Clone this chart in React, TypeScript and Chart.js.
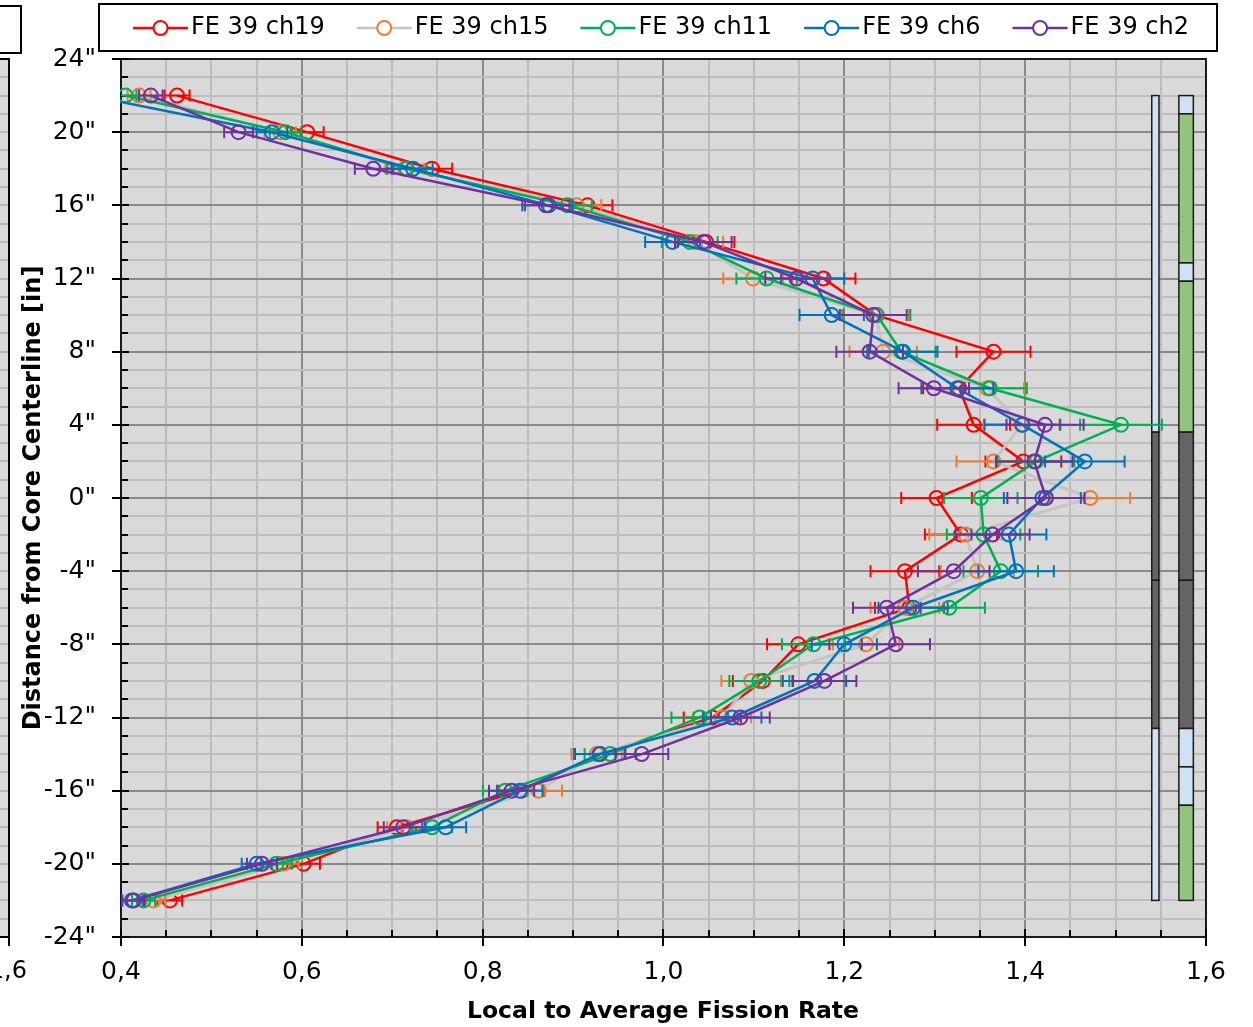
import React, { useEffect, useRef } from 'react';
import { Chart, registerables } from 'chart.js';

Chart.register(...registerables);

// ---- data ----
const positions = [22, 20, 18, 16, 14, 12, 10, 8, 6, 4, 2, 0, -2, -4, -6, -8, -10, -12, -14, -16, -18, -20, -22];
const ch19 = [0.462, 0.606, 0.744, 0.916, 1.047, 1.177, 1.235, 1.365, 1.327, 1.343, 1.398, 1.302, 1.329, 1.267, 1.272, 1.149, 1.110, 1.054, 0.930, 0.843, 0.705, 0.602, 0.454];
const ch15 = [0.420, 0.576, 0.714, 0.904, 1.035, 1.099, 1.235, 1.243, 1.358, 1.396, 1.365, 1.472, 1.334, 1.347, 1.267, 1.224, 1.097, 1.065, 0.926, 0.862, 0.716, 0.579, 0.436];
const ch11 = [0.405, 0.582, 0.716, 0.894, 1.029, 1.114, 1.236, 1.263, 1.361, 1.506, 1.412, 1.351, 1.354, 1.373, 1.316, 1.166, 1.106, 1.040, 0.941, 0.825, 0.744, 0.572, 0.425];
const ch6 = [0.365, 0.567, 0.723, 0.873, 1.010, 1.165, 1.186, 1.265, 1.325, 1.397, 1.466, 1.419, 1.382, 1.390, 1.276, 1.200, 1.167, 1.076, 0.929, 0.841, 0.759, 0.550, 0.412];
const ch2 = [0.433, 0.530, 0.679, 0.870, 1.044, 1.147, 1.232, 1.228, 1.299, 1.422, 1.410, 1.423, 1.364, 1.321, 1.247, 1.257, 1.178, 1.085, 0.976, 0.832, 0.712, 0.556, 0.414];
const seriesNames = ['FE 39 ch19', 'FE 39 ch15', 'FE 39 ch11', 'FE 39 ch6', 'FE 39 ch2'];
const seriesValues = [ch19, ch15, ch11, ch6, ch2];
const relativeUncertainty = 0.03;

// core component columns (x position, half width, segments from/to in inches)
const narrowColumnX = 1.544;
const narrowColumnHalf = 0.004;
const narrowFrom = [22, 3.6, -4.5, -12.6];
const narrowTo = [3.6, -4.5, -12.6, -22];
const narrowKind = ['refl', 'core', 'core', 'refl'];
const wideColumnX = 1.578;
const wideColumnHalf = 0.008;
const wideFrom = [22, 21, 12.85, 11.85, 3.6, -4.5, -12.6, -14.7, -16.8];
const wideTo = [21, 12.85, 11.85, 3.6, -4.5, -12.6, -14.7, -16.8, -22];
const wideKind = ['refl', 'fuel', 'refl', 'fuel', 'core', 'core', 'refl', 'refl', 'fuel'];

// ---- styles ----
const lineColors = ['#ff0000', '#c4c4c4', '#00b050', '#0070c0', '#7030a0'];
const markerColors = ['#ff0000', '#ed7d31', '#00b050', '#0070c0', '#7030a0'];
const kindColors: Record<string, string> = { refl: '#cfe1f3', fuel: '#93c47d', core: '#646464' };
const FONT = '"DejaVu Sans", Verdana, sans-serif';

const isMajorX = (v: number) => Math.round(v * 100) % 20 === 0;
const isMajorY = (v: number) => Math.round(v) % 4 === 0;

const decorPlugin = {
  id: 'decor',
  beforeDraw(chart: any) {
    const { ctx, chartArea: a } = chart;
    ctx.save();
    ctx.fillStyle = '#d9d9d9';
    ctx.fillRect(a.left, a.top, a.right - a.left, a.bottom - a.top);
    ctx.restore();
  },
  beforeDatasetsDraw(chart: any) {
    const { ctx, chartArea: a } = chart;
    const xs = chart.scales.x;
    const ys = chart.scales.y;
    ctx.save();
    // plot border
    ctx.strokeStyle = '#1a1a1a';
    ctx.lineWidth = 2;
    ctx.strokeRect(a.left, a.top, a.right - a.left, a.bottom - a.top);
    // tick marks
    ctx.strokeStyle = '#000';
    ctx.lineWidth = 2;
    ctx.beginPath();
    for (let v = -24; v <= 24; v++) {
      const py = Math.round(ys.getPixelForValue(v));
      if (isMajorY(v)) { ctx.moveTo(a.left - 9, py); ctx.lineTo(a.left + 8, py); }
      else { ctx.moveTo(a.left, py); ctx.lineTo(a.left + 7, py); }
    }
    for (let k = 8; k <= 32; k++) {
      const v = k * 0.05;
      const px = Math.round(xs.getPixelForValue(v));
      if (isMajorX(v)) { ctx.moveTo(px, a.bottom - 8); ctx.lineTo(px, a.bottom + 9); }
      else { ctx.moveTo(px, a.bottom - 7); ctx.lineTo(px, a.bottom); }
    }
    ctx.stroke();
    // component columns
    const drawColumn = (cx: number, half: number, from: number[], to: number[], kind: string[]) => {
      const x0 = xs.getPixelForValue(cx - half);
      const x1 = xs.getPixelForValue(cx + half);
      for (let i = 0; i < from.length; i++) {
        const y0 = ys.getPixelForValue(from[i]);
        const y1 = ys.getPixelForValue(to[i]);
        ctx.fillStyle = kindColors[kind[i]];
        ctx.fillRect(x0, y0, x1 - x0, y1 - y0);
        ctx.strokeStyle = '#1a1a1a';
        ctx.lineWidth = 1.5;
        ctx.strokeRect(x0, y0, x1 - x0, y1 - y0);
      }
    };
    drawColumn(narrowColumnX, narrowColumnHalf, narrowFrom, narrowTo, narrowKind);
    drawColumn(wideColumnX, wideColumnHalf, wideFrom, wideTo, wideKind);
    ctx.restore();
  },
  afterDatasetDraw(chart: any, args: any) {
    const i = args.index;
    const { ctx, chartArea: a } = chart;
    const xs = chart.scales.x;
    const ys = chart.scales.y;
    ctx.save();
    ctx.beginPath();
    ctx.rect(a.left, a.top, a.right - a.left, a.bottom - a.top);
    ctx.clip();
    ctx.strokeStyle = markerColors[i];
    ctx.lineWidth = 2;
    ctx.beginPath();
    seriesValues[i].forEach((v, j) => {
      const py = ys.getPixelForValue(positions[j]);
      const xl = xs.getPixelForValue(v * (1 - relativeUncertainty));
      const xr = xs.getPixelForValue(v * (1 + relativeUncertainty));
      ctx.moveTo(xl, py); ctx.lineTo(xr, py);
      ctx.moveTo(xl, py - 6); ctx.lineTo(xl, py + 6);
      ctx.moveTo(xr, py - 6); ctx.lineTo(xr, py + 6);
    });
    ctx.stroke();
    ctx.restore();
  },
  afterDraw(chart: any) {
    const { ctx, chartArea: a } = chart;
    const ys = chart.scales.y;
    ctx.save();
    // legend
    ctx.fillStyle = '#fff';
    ctx.fillRect(99, 4, 1118, 47);
    ctx.strokeStyle = '#000';
    ctx.lineWidth = 2;
    ctx.strokeRect(99, 4, 1118, 47);
    ctx.font = `24px ${FONT}`;
    const lineLen = 55, gap = 3, itemGap = 32;
    const widths = seriesNames.map((n) => ctx.measureText(n).width);
    const total = widths.reduce((s, w) => s + w + lineLen + gap, 0) + itemGap * (seriesNames.length - 1);
    let x = 661 - total / 2;
    const ly = 28;
    seriesNames.forEach((n, i) => {
      ctx.strokeStyle = lineColors[i];
      ctx.lineWidth = 2.5;
      ctx.beginPath(); ctx.moveTo(x, ly); ctx.lineTo(x + lineLen, ly); ctx.stroke();
      ctx.strokeStyle = markerColors[i];
      ctx.lineWidth = 2;
      ctx.beginPath(); ctx.arc(x + lineLen / 2, ly, 7, 0, Math.PI * 2); ctx.fillStyle = '#fff'; ctx.fill(); ctx.stroke();
      ctx.fillStyle = '#000';
      ctx.textAlign = 'left';
      ctx.textBaseline = 'middle';
      ctx.fillText(n, x + lineLen + gap, ly);
      x += lineLen + gap + widths[i] + itemGap;
    });
    // axis titles
    ctx.fillStyle = '#000';
    ctx.font = `bold 23.5px ${FONT}`;
    ctx.textAlign = 'center';
    ctx.textBaseline = 'middle';
    ctx.fillText('Local to Average Fission Rate', 663, 1012);
    ctx.save();
    ctx.translate(34, (a.top + a.bottom) / 2);
    ctx.rotate(-Math.PI / 2);
    ctx.font = `bold 24px ${FONT}`;
    ctx.fillText('Distance from Core Centerline [in]', 0, 0);
    ctx.restore();
    // fragment of neighbouring chart on the left
    ctx.fillStyle = '#d9d9d9';
    ctx.fillRect(0, a.top, 9, a.bottom - a.top);
    ctx.strokeStyle = '#b8b8b8';
    ctx.lineWidth = 2;
    ctx.beginPath();
    for (let v = -23; v <= 23; v++) {
      const py = Math.round(ys.getPixelForValue(v));
      ctx.moveTo(0, py); ctx.lineTo(9, py);
    }
    ctx.stroke();
    ctx.strokeStyle = '#000';
    ctx.beginPath();
    ctx.moveTo(0, a.top); ctx.lineTo(9, a.top); ctx.lineTo(9, a.bottom + 9);
    ctx.moveTo(0, a.bottom); ctx.lineTo(9, a.bottom);
    ctx.stroke();
    ctx.strokeRect(-2, 6, 23, 47);
    ctx.fillStyle = '#000';
    ctx.font = `24px ${FONT}`;
    ctx.textAlign = 'right';
    ctx.fillText('1,6', 27, 972);
    ctx.restore();
  },
};

export default function App() {
  const ref = useRef<HTMLCanvasElement>(null);
  useEffect(() => {
    document.body.style.margin = '0';
    const canvas = ref.current!;
    const datasets = seriesValues.map((vals, i) => ({
      label: seriesNames[i],
      data: vals.map((v, j) => ({ x: v, y: positions[j] })),
      showLine: true,
      borderColor: lineColors[i],
      borderWidth: i === 1 ? 3 : 2.5,
      pointStyle: 'circle',
      pointRadius: 7,
      pointBorderWidth: 2,
      pointBorderColor: markerColors[i],
      pointBackgroundColor: 'rgba(0,0,0,0)',
      backgroundColor: 'rgba(0,0,0,0)',
      order: seriesValues.length - 1 - i,
      clip: 1,
    }));
    const chart = new Chart(canvas, {
      type: 'scatter',
      data: { datasets },
      options: {
        responsive: false,
        animation: false,
        devicePixelRatio: 1,
        layout: { padding: { left: 0, top: 59, right: 47, bottom: 0 } },
        plugins: { legend: { display: false }, tooltip: { enabled: false } },
        scales: {
          x: {
            type: 'linear',
            position: 'bottom',
            min: 0.4,
            max: 1.6,
            afterFit: (s: any) => { s.height = 90; },
            ticks: {
              stepSize: 0.05,
              autoSkip: false,
              maxRotation: 0,
              minRotation: 0,
              padding: 20,
              color: '#000',
              font: { family: FONT, size: 25 },
              callback: (v: any) => (isMajorX(Number(v)) ? Number(v).toFixed(1).replace('.', ',') : ''),
            },
            grid: {
              drawTicks: false,
              lineWidth: 2,
              color: (c: any) => (isMajorX(c.tick.value) ? '#8a8a8a' : '#bdbdbd'),
            },
            border: { display: true, color: '#000', width: 2 },
          },
          y: {
            type: 'linear',
            position: 'left',
            min: -24,
            max: 24,
            afterFit: (s: any) => { s.width = 121; },
            ticks: {
              stepSize: 1,
              autoSkip: false,
              padding: 25,
              color: '#000',
              font: { family: FONT, size: 25 },
              callback: (v: any) => (isMajorY(Number(v)) ? `${Number(v)}"` : ''),
            },
            grid: {
              drawTicks: false,
              lineWidth: 2,
              color: (c: any) => (isMajorY(c.tick.value) ? '#8a8a8a' : '#bdbdbd'),
            },
            border: { display: true, color: '#000', width: 2 },
          },
        },
      },
      plugins: [decorPlugin],
    } as any);
    return () => chart.destroy();
  }, []);
  return <canvas ref={ref} width={1253} height={1027} style={{ display: 'block', width: 1253, height: 1027 }} />;
}
